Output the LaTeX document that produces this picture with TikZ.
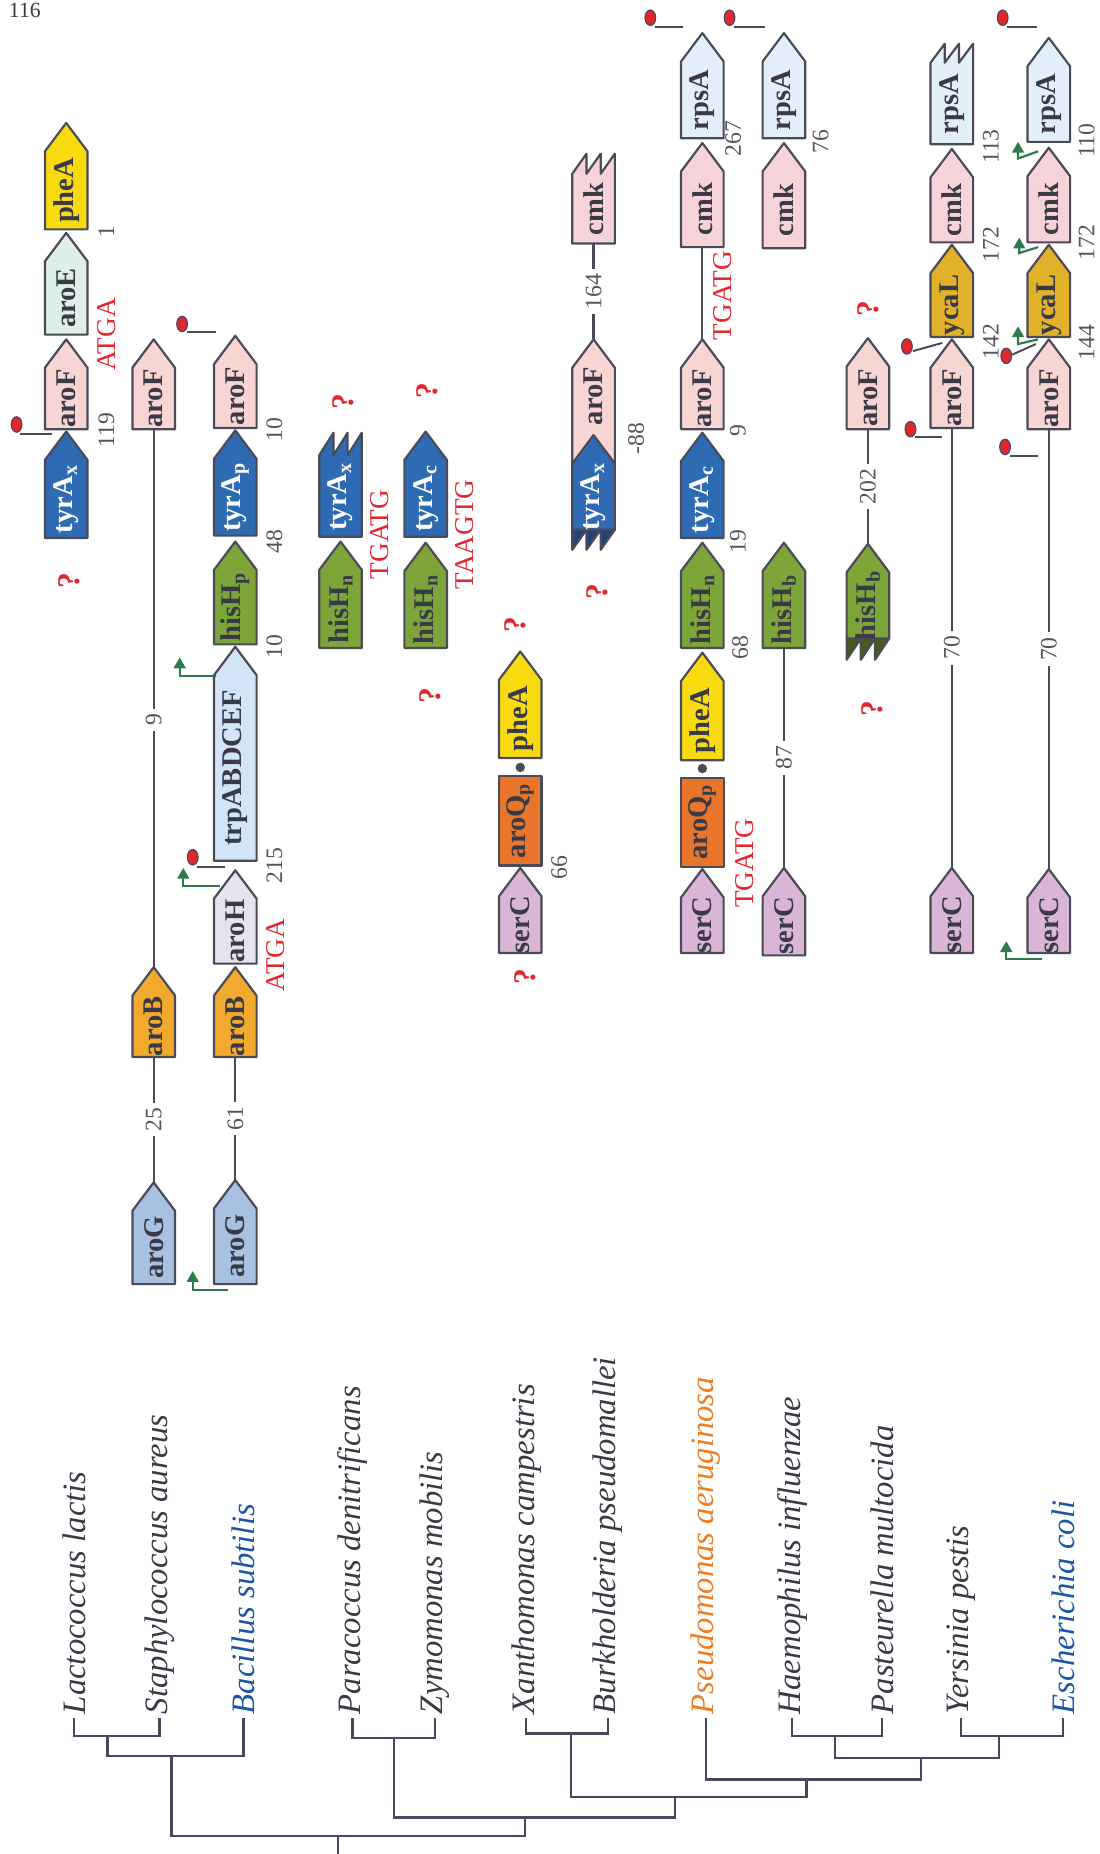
\documentclass[tikz,border=0pt]{standalone}
\usepackage{fontspec}
\setmainfont{Liberation Serif}
\usepackage{xcolor}
\usetikzlibrary{arrows.meta}
\definecolor{gPhe}{HTML}{F7DA10}
\definecolor{gAroE}{HTML}{DDEFE6}
\definecolor{gAroF}{HTML}{F6D5D3}
\definecolor{gTyr}{HTML}{2F6BB3}
\definecolor{gAroB}{HTML}{F2AA2E}
\definecolor{gAroG}{HTML}{A8C1E2}
\definecolor{gTrp}{HTML}{D2E5F6}
\definecolor{gAroH}{HTML}{E4E3EE}
\definecolor{gHis}{HTML}{7DA53A}
\definecolor{gAroQ}{HTML}{E9742B}
\definecolor{gSer}{HTML}{D9B5D6}
\definecolor{gCmk}{HTML}{F6D3D8}
\definecolor{gRps}{HTML}{E3F0FA}
\definecolor{gYca}{HTML}{E2B12A}
\definecolor{outl}{HTML}{4A4A58}
\definecolor{txtgray}{HTML}{3A3A46}
\definecolor{numgray}{HTML}{55555F}
\definecolor{codonred}{HTML}{E3262E}
\definecolor{promgreen}{HTML}{2E7A4A}
\definecolor{treec}{HTML}{4A4660}
\definecolor{spblue}{HTML}{1B55A6}
\definecolor{sporange}{HTML}{EF7D22}

\begin{document}
\begin{tikzpicture}[x=0.6pt,y=-0.6pt,
  genebox/.style={draw=outl,line width=1.1pt,line join=round},
  glabel/.style={rotate=90,inner sep=0pt,font=\fontsize{14.5}{14.5}\selectfont\bfseries,text=txtgray},
  num/.style={rotate=90,inner sep=1pt,font=\fontsize{12}{12}\selectfont,text=numgray},
  onlink/.style={num,fill=white,inner sep=2.5pt},
  codon/.style={rotate=90,inner sep=0pt,font=\fontsize{13.8}{13.8}\selectfont,text=codonred},
  qmark/.style={rotate=90,inner sep=0pt,font=\fontsize{16}{16}\selectfont\bfseries,text=codonred},
  link/.style={draw=outl,line width=1.1pt},
  promo/.style={draw=promgreen,line width=1.1pt,-{Triangle[width=6pt,length=5.5pt]}},
  termstem/.style={draw=outl,line width=1pt},
  tree/.style={draw=treec,line width=1.2pt},
  species/.style={rotate=90,anchor=west,inner sep=0pt,font=\fontsize{16.6}{16.6}\selectfont\itshape}]
 \useasboundingbox (0,0) rectangle (930,1568);
 \node[font=\fontsize{11}{11}\selectfont,text=txtgray] (page) at (21,9) {116};

 \foreach \nm/\x/\tip/\bt/\col/\lab in {
   L1/56/104/194/gPhe/pheA, L2/56/197/283/gAroE/aroE, L3/56/287/363/gAroF/aroF,
   L4/56/365/455/gTyr/{\color{white}tyrA\textsubscript{x}},
   S1/130/287/363/gAroF/aroF, S2/130/818/894/gAroB/aroB, S3/130/1000/1086/gAroG/aroG,
   B1/199/284/362/gAroF/aroF, B2/199/364/453/gTyr/{\color{white}tyrA\textsubscript{p}},
   B3/199/458/545/gHis/{hisH\textsubscript{p}}, B4/199/547/728/gTrp/trpABDCEF,
   B5/199/736/815/gAroH/aroH, B6/199/818/894/gAroB/aroB, B7/199/998/1086/gAroG/aroG,
   P2/288/458/548/gHis/{hisH\textsubscript{n}},
   Z1/360/365/454/gTyr/{\color{white}tyrA\textsubscript{c}}, Z2/360/459/548/gHis/{hisH\textsubscript{n}},
   X1/440/551/641/gPhe/pheA, X3/440/734/806/gSer/serC,
   Q1/594/28/117/gRps/rpsA, Q2/594/121/209/gCmk/cmk, Q3/594/287/363/gAroF/aroF,
   Q4/594/366/455/gTyr/{\color{white}tyrA\textsubscript{c}}, Q5/594/459/548/gHis/{hisH\textsubscript{n}},
   Q6/594/552/643/gPhe/pheA, Q8/594/735/806/gSer/serC,
   H1/663/28/117/gRps/rpsA, H2/663/121/210/gCmk/cmk, H3/663/459/548/gHis/{hisH\textsubscript{b}},
   H4/663/734/808/gSer/serC, T1/734/286/363/gAroF/aroF,
   Y2/805/126/205/gCmk/cmk, Y3/805/207/285/gYca/ycaL, Y4/805/287/362/gAroF/aroF, Y5/805/734/806/gSer/serC,
   E1/887/32/120/gRps/rpsA, E2/887/125/205/gCmk/cmk, E3/887/207/285/gYca/ycaL,
   E4/887/287/363/gAroF/aroF, E5/887/735/806/gSer/serC}{
  \draw[genebox,fill=\col] (\x-18,\bt) -- (\x-18,\tip+24) -- (\x,\tip) -- (\x+18,\tip+24) -- (\x+18,\bt) -- cycle;
  \node[glabel] (\nm) at (\x,{(\tip+24+\bt)/2}) {\lab};
  \coordinate (\nm-t) at (\x,\tip); \coordinate (\nm-b) at (\x,\bt);
 }

 \draw[genebox,fill=gTyr] (270,454) -- (270,385) -- (282,366) -- (282,385) -- (294,366) -- (294,385) -- (306,366) -- (306,454) -- cycle;
 \node[glabel] (P1) at (288,420) {\color{white}tyrA\textsubscript{x}};
 \draw[genebox,fill=gCmk] (484,206) -- (484,147) -- (496,130) -- (496,147) -- (508,130) -- (508,147) -- (520,130) -- (520,206) -- cycle;
 \node[glabel] (K1) at (502,177) {cmk}; \coordinate (K1-b) at (502,206);
 \draw[genebox,fill=gRps] (787,122) -- (787,53) -- (799,37) -- (799,53) -- (811,37) -- (811,53) -- (823,37) -- (823,122) -- cycle;
 \node[glabel] (Y1) at (805,88) {rpsA};
 \draw[genebox,fill=gAroF] (484,392) -- (484,311) -- (502,287) -- (520,311) -- (520,392) -- cycle;
 \node[glabel] (K2) at (502,335) {aroF}; \coordinate (K2-t) at (502,287);
 \draw[genebox,fill=gTyr!65!black] (484,448) -- (484,465) -- (496,448) -- (496,465) -- (508,448) -- (508,465) -- (520,448) -- cycle;
 \draw[genebox,fill=gTyr] (484,448) -- (484,392) -- (502,368) -- (520,392) -- (520,448) -- cycle;
 \node[glabel] (K3) at (502,420) {\color{white}tyrA\textsubscript{x}};
 \draw[genebox,fill=gHis!55!black] (716,540) -- (716,558) -- (728,540) -- (728,558) -- (740,540) -- (740,558) -- (752,540) -- cycle;
 \draw[genebox,fill=gHis] (716,540) -- (716,484) -- (734,460) -- (752,484) -- (752,540) -- cycle;
 \node[glabel] (T2) at (734,512) {hisH\textsubscript{b}}; \coordinate (T2-t) at (734,460);
 \draw[genebox,fill=gAroQ] (422,656) rectangle (458,732); \node[glabel] (X2) at (440,694) {aroQ\textsubscript{p}};
 \draw[genebox,fill=gAroQ] (576,658) rectangle (612,733); \node[glabel] (Q7) at (594,695) {aroQ\textsubscript{p}};
 \fill[outl] (440,649) circle (2.4pt); \fill[outl] (594,650) circle (2.4pt);

 \draw[link] (S1-b) -- node[onlink,pos=.54] (d1) {9} (S2-t);
 \draw[link] (S2-b) -- node[onlink] (d2) {25} (S3-t);
 \draw[link] (B6-b) -- node[onlink] (d3) {61} (B7-t);
 \draw[link] (K1-b) -- node[onlink] (d4) {164} (K2-t);
 \draw[link] (Q2-b) -- (Q3-t);
 \draw[link] (H3-b) -- node[onlink] (d5) {87} (H4-t);
 \draw[link] (T1-b) -- node[onlink] (d6) {202} (T2-t);
 \draw[link] (Y4-b) -- node[onlink] (d7) {70} (Y5-t);
 \draw[link] (E4-b) -- node[onlink] (d8) {70} (E5-t);

 \foreach \x/\y/\t [count=\i] in {90/364/119, 90/196/1, 232/363/10, 232/458/48, 232/547/10, 232/732/215,
   473/734/66, 538/371/-88, 620/117/267, 624/364/9, 624/458/19, 626/548/68, 694/120/76,
   838/124/113, 838/207/172, 838/289/142, 919/119/110, 919/205/172, 919/290/144}
  \node[num] (num\i) at (\x,\y) {\t};
 \foreach \x/\y/\t [count=\i] in {90/283/ATGA, 233/808/ATGA, 321/452/TGATG, 393/452/TAAGTG, 611/250/TGATG, 630/730/TGATG}
  \node[codon] (cod\i) at (\x,\y) {\t};
 \foreach \x/\y [count=\i] in {59/491, 290/340, 361/330, 364/588, 436/528, 444/826, 505/500, 734/261, 738/599}
  \node[qmark] (q\i) at (\x,\y) {?};

 \foreach \bx/\by/\sx/\sy/\ex/\ey in {14/359/17/367/44/367, 154/274/158/281/183/281, 163/725/167/733/190/733,
   550/15/554/23/578/23, 617/15/621/23/647/23, 767/293/772/297/797/290, 770/363/774/370/797/370,
   848/15/852/23/877/23, 851/301/856/300/876/291, 850/378/854/386/878/386}{
  \draw[termstem] (\sx,\sy) -- (\ex,\ey);
  \draw[outl,line width=.6pt,fill=codonred] (\bx,\by) ellipse [x radius=2.7pt,y radius=3.9pt];
 }
 \draw[promo] (183,572) -| (152,556); \draw[promo] (186,749) -| (155,734); \draw[promo] (193,1091) -| (163,1075);
 \draw[promo] (878,128) -- (861,134) -- (861,120); \draw[promo] (878,209) -- (862,214) -- (862,201);
 \draw[promo] (878,287) -- (861,291) -- (861,276); \draw[promo] (881,811) -| (851,796);

 \foreach \nm/\x/\col/\sp in {lact/62.6/txtgray/Lactococcus lactis, staph/135/txtgray/Staphylococcus aureus,
   bsub/206/spblue/Bacillus subtilis, para/298/txtgray/Paracoccus denitrificans, zymo/368/txtgray/Zymomonas mobilis,
   xant/445/txtgray/Xanthomonas campestris, burk/514/txtgray/Burkholderia pseudomallei,
   paer/597/sporange/Pseudomonas aeruginosa, haem/670/txtgray/Haemophilus influenzae,
   past/746/txtgray/Pasteurella multocida, yers/813/txtgray/Yersinia pestis, ecol/899/spblue/Escherichia coli}
  \node[species,text=\col] (\nm) at (\x,1450) {\sp};
 \foreach \xa/\xb/\ya/\yb/\yj in {62.6/135/1453/1453/1468, 91/206/1468/1453/1485, 298/368/1453/1453/1470,
   445/514/1453/1453/1466, 670/746/1453/1453/1468, 813/899/1453/1453/1468, 706/845/1468/1468/1487,
   597/779/1453/1487/1505, 483/682/1466/1505/1520, 333/571/1470/1520/1537, 145/444/1485/1537/1553}
  \draw[tree] (\xa,\ya) |- (\xb,\yj) -- (\xb,\yb);
 \draw[tree] (286,1553) -- (286,1568);
\end{tikzpicture}
\end{document}
